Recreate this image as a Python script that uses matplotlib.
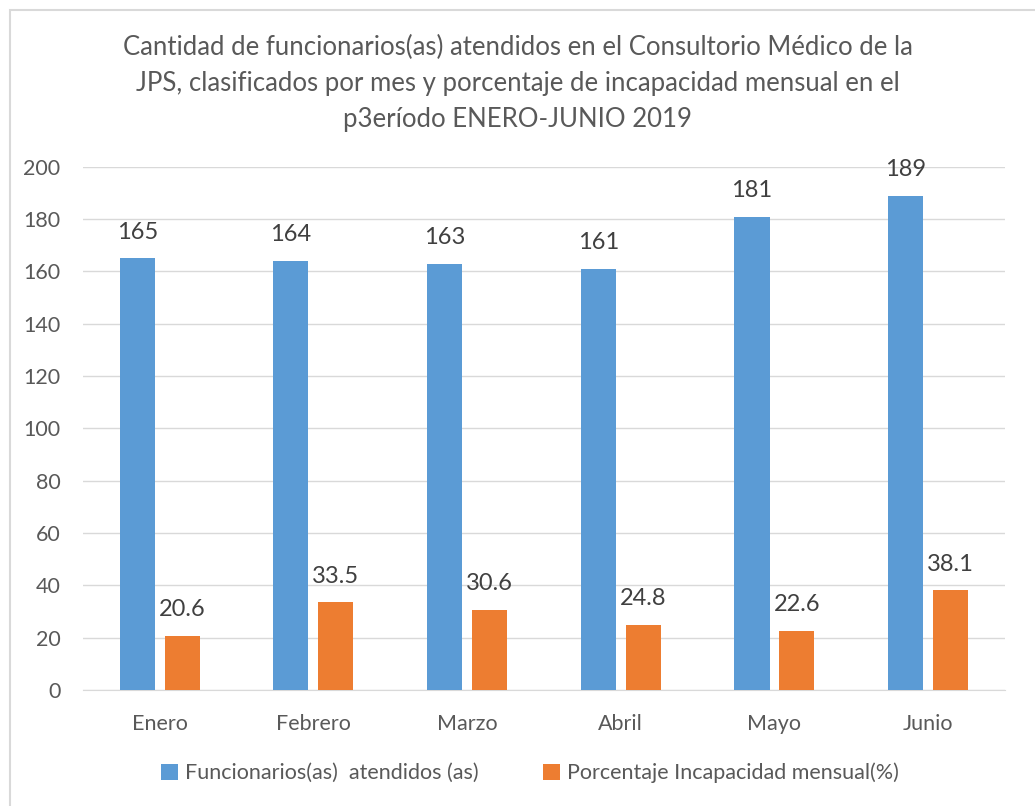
import matplotlib.pyplot as plt
import numpy as np
from matplotlib.patches import Rectangle

meses = ['Enero', 'Febrero', 'Marzo', 'Abril', 'Mayo', 'Junio']
funcionarios = [165, 164, 163, 161, 181, 189]
incapacidad = [20.6, 33.5, 30.6, 24.8, 22.6, 38.1]

azul = '#5b9bd5'
naranja = '#ed7d31'
gris = '#595959'

plt.rcParams['font.family'] = ['Lato', 'DejaVu Sans']

fig = plt.figure(figsize=(10.35, 8.06), dpi=100)
ax = fig.add_axes([0.080, 0.144, 0.891, 0.649])

x = np.arange(len(meses))
w = 0.228
b1 = ax.bar(x - 0.146, funcionarios, w, color=azul, label='Funcionarios(as)  atendidos (as)', zorder=3)
b2 = ax.bar(x + 0.146, incapacidad, w, color=naranja, label='Porcentaje Incapacidad mensual(%)', zorder=3)

for bars, vals in ((b1, funcionarios), (b2, incapacidad)):
    for r, v in zip(bars, vals):
        ax.text(r.get_x() + r.get_width() / 2, v + 6, str(v), ha='center', va='bottom',
                fontsize=17, color='#404040')

ax.set_xlim(-0.5, 5.5)
ax.set_ylim(0, 200)
ax.set_yticks(range(0, 201, 20))
ax.set_xticks(x)
ax.set_xticklabels(meses)
ax.tick_params(axis='both', length=0, labelsize=15.5, colors=gris)
ax.tick_params(axis='x', pad=17)
ax.tick_params(axis='y', pad=16)
ax.grid(axis='y', color='#d9d9d9', linewidth=1, zorder=0)
for s in ['top', 'right', 'left']:
    ax.spines[s].set_visible(False)
ax.spines['bottom'].set_color('#d9d9d9')

fig.text(0.5, 0.896, 'Cantidad de funcionarios(as) atendidos en el Consultorio Médico de la\n'
         'JPS, clasificados por mes y porcentaje de incapacidad mensual en el\n'
         'p3eríodo ENERO-JUNIO 2019', ha='center', va='center', fontsize=18.5,
         color=gris, linespacing=1.55)

fig.legend(loc='center', bbox_to_anchor=(0.512, 0.041), ncol=2, frameon=False,
           fontsize=15.5, labelcolor=gris, handlelength=0.8, handleheight=0.8,
           handletextpad=0.3, columnspacing=3.0)

fig.patches.append(Rectangle((0.01, -0.01), 1.0, 0.998, transform=fig.transFigure,
                             fill=False, edgecolor='#d9d9d9', linewidth=1.5))

fig.savefig('out.png', dpi=100)
